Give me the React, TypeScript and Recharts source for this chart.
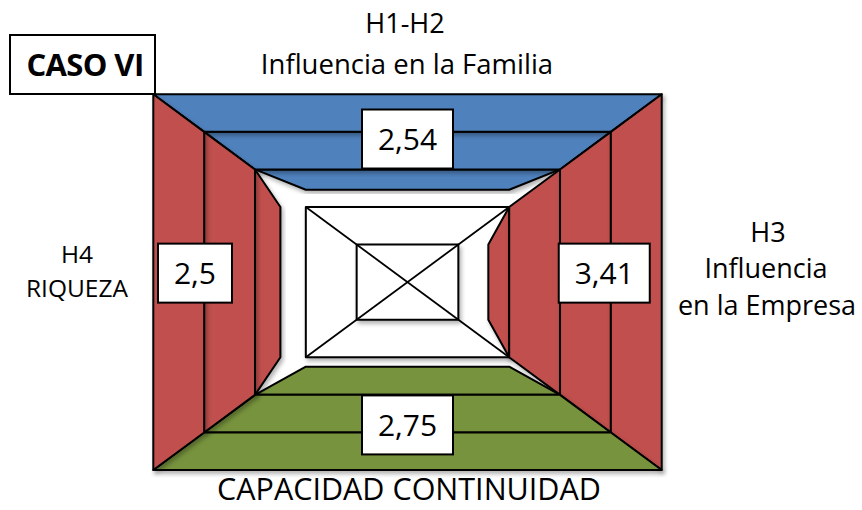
import { ScatterChart, Scatter, XAxis, YAxis } from "recharts";

// order of the four sides: top, right, bottom, left
const SIDES = ["top", "right", "bottom", "left"] as const;
const SIDE_VALUES = [2.54, 3.41, 2.75, 2.5];
const SIDE_LABELS = ["2,54", "3,41", "2,75", "2,5"];
const SIDE_COLORS = ["#4F81BD", "#C0504D", "#77933C", "#C0504D"];
const BANDS = [0, 1, 2, 3, 4];
const MAX_LEVEL = 5;
const INNER_FRAMES = [3, 4];

// where each value box sits (along the side, depth from the outer edge)
const LABEL_POS = [
  { along: 0, depth: 1.19 },
  { along: 0.24, depth: 1.13 },
  { along: 0, depth: 1.2 },
  { along: -0.24, depth: 0.82 },
];

type Side = (typeof SIDES)[number];
type P = { x: number; y: number };

function pt(side: Side, along: number, depth: number): P {
  const r = MAX_LEVEL - depth;
  switch (side) {
    case "top":
      return { x: along, y: r };
    case "bottom":
      return { x: -along, y: -r };
    case "left":
      return { x: -r, y: -along };
    default:
      return { x: r, y: along };
  }
}

// one trapezoid per band, inner bands first so outer ones cast shadow on them
const bandPolys: { key: string; fill: string; pts: P[] }[] = [];
SIDES.forEach((side, i) => {
  const v = SIDE_VALUES[i];
  [...BANDS].reverse().forEach((k) => {
    if (v <= k) return;
    const d2 = Math.min(k + 1, v);
    const a = MAX_LEVEL - k;
    bandPolys.push({
      key: `${side}-${k}`,
      fill: SIDE_COLORS[i],
      pts: [pt(side, -a, k), pt(side, a, k), pt(side, a - 1, d2), pt(side, -(a - 1), d2)],
    });
  });
});

const framePolys = INNER_FRAMES.map((d) => {
  const r = MAX_LEVEL - d;
  return [
    { x: -r, y: r },
    { x: r, y: r },
    { x: r, y: -r },
    { x: -r, y: -r },
  ];
});

const r3 = MAX_LEVEL - INNER_FRAMES[0];
const diagonals = [
  [
    { x: r3, y: r3 },
    { x: -r3, y: -r3 },
  ],
  [
    { x: -r3, y: r3 },
    { x: r3, y: -r3 },
  ],
];

const labelData = SIDES.map((side, i) => ({
  ...pt(side, LABEL_POS[i].along, LABEL_POS[i].depth),
  label: SIDE_LABELS[i],
}));

const FONT = "'Open Sans', sans-serif";

const polygonLine = (fill: string, filter?: string) => (p: any) => (
  <polygon
    points={(p.points || []).map((q: any) => `${q.x},${q.y}`).join(" ")}
    fill={fill}
    stroke="#000"
    strokeWidth={2}
    strokeLinejoin="round"
    filter={filter}
  />
);

const segmentLine = (p: any) => (
  <polyline
    points={(p.points || []).map((q: any) => `${q.x},${q.y}`).join(" ")}
    fill="none"
    stroke="#000"
    strokeWidth={1.8}
  />
);

const noDot = () => <g />;

const LabelBox = (props: any) => {
  const { cx, cy, payload } = props;
  const w = payload.label.length === 3 ? 74 : 91;
  const h = 59;
  return (
    <g>
      <rect x={cx - w / 2} y={cy - h / 2} width={w} height={h} fill="#fff" stroke="#000" strokeWidth={2} />
      <text x={cx} y={cy + 11} textAnchor="middle" fontSize={30} fontFamily={FONT} fill="#000">
        {payload.label}
      </text>
    </g>
  );
};

export default function App() {
  return (
    <div style={{ position: "absolute", left: 0, top: 0, width: 862, height: 510, background: "#fff" }}>
      <svg width={0} height={0} style={{ position: "absolute" }}>
        <defs>
          <filter id="shadow" x="-10%" y="-10%" width="130%" height="130%">
            <feDropShadow dx={2} dy={3} stdDeviation={2} floodColor="#000" floodOpacity={0.3} />
          </filter>
        </defs>
      </svg>
      <ScatterChart width={862} height={510} margin={{ top: 94.3, right: 200.3, bottom: 40, left: 153.3 }}>
        <XAxis type="number" dataKey="x" domain={[-5, 5]} hide />
        <YAxis type="number" dataKey="y" domain={[-5, 5]} hide />
        {framePolys.map((pts, i) => (
          <Scatter
            key={`frame-${i}`}
            data={pts}
            line={polygonLine("#fff", "url(#shadow)")}
            shape={noDot}
            isAnimationActive={false}
          />
        ))}
        {diagonals.map((pts, i) => (
          <Scatter key={`diag-${i}`} data={pts} line={segmentLine} shape={noDot} isAnimationActive={false} />
        ))}
        {bandPolys.map((b) => (
          <Scatter
            key={b.key}
            data={b.pts}
            line={polygonLine(b.fill, "url(#shadow)")}
            shape={noDot}
            isAnimationActive={false}
          />
        ))}
        <Scatter data={labelData} shape={LabelBox} isAnimationActive={false} />
      </ScatterChart>
      <svg
        width={862}
        height={510}
        style={{ position: "absolute", left: 0, top: 0, pointerEvents: "none" }}
        fontFamily={FONT}
        fill="#000"
      >
        <rect x={10} y={35} width={145} height={59} fill="#fff" stroke="#000" strokeWidth={2} />
        <text x={85} y={76} textAnchor="middle" fontSize={31} fontWeight={700} letterSpacing={-0.6}>
          CASO VI
        </text>
        <text x={405} y={33} textAnchor="middle" fontSize={27}>
          H1-H2
        </text>
        <text x={407} y={74} textAnchor="middle" fontSize={27.5}>
          Influencia en la Familia
        </text>
        <text x={768} y={242} textAnchor="middle" fontSize={27}>
          H3
        </text>
        <text x={766} y={278} textAnchor="middle" fontSize={27}>
          Influencia
        </text>
        <text x={767} y={315} textAnchor="middle" fontSize={27}>
          en la Empresa
        </text>
        <text x={77} y={263} textAnchor="middle" fontSize={24.5}>
          H4
        </text>
        <text x={77} y={297} textAnchor="middle" fontSize={24.5}>
          RIQUEZA
        </text>
        <text x={409} y={500} textAnchor="middle" fontSize={30.5}>
          CAPACIDAD CONTINUIDAD
        </text>
      </svg>
    </div>
  );
}
